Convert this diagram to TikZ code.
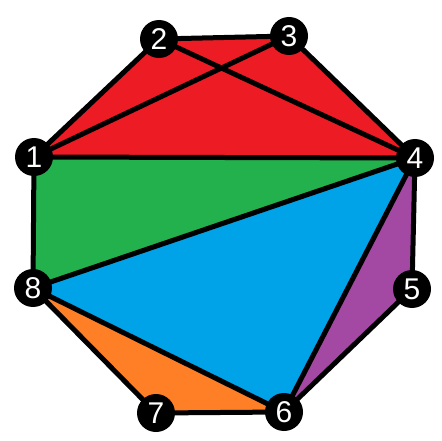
\documentclass[tikz,border=0pt]{standalone}
\usepackage{fontspec}
\setmainfont{Liberation Sans}
\definecolor{pred}{HTML}{ED1C24}
\definecolor{pgreen}{HTML}{22B14C}
\definecolor{pblue}{HTML}{00A2E8}
\definecolor{ppurple}{HTML}{A349A4}
\definecolor{porange}{HTML}{FF7F27}
\begin{document}
\begin{tikzpicture}[x=1pt,y=-1pt,
  vtx/.style={circle,fill=black,inner sep=0pt,minimum size=38pt,text=white,font=\fontsize{30}{30}\selectfont},
  edge/.style={line width=5pt,line join=round,line cap=round}]
\useasboundingbox (0,0) rectangle (442,441);
\coordinate (p1) at (34,157);
\coordinate (p2) at (159,39);
\coordinate (p3) at (289,36);
\coordinate (p4) at (415,158);
\coordinate (p5) at (412,289);
\coordinate (p6) at (284,412);
\coordinate (p7) at (156,413);
\coordinate (p8) at (33,288);
\fill[pred] (p1)--(p2)--(p3)--(p4)--cycle;
\fill[pgreen] (p1)--(p4)--(p8)--cycle;
\fill[pblue] (p8)--(p4)--(p6)--cycle;
\fill[ppurple] (p4)--(p5)--(p6)--cycle;
\fill[porange] (p8)--(p6)--(p7)--cycle;
\draw[edge] (p1)--(p2)--(p3)--(p4)--(p5)--(p6)--(p7)--(p8)--cycle;
\draw[edge] (p1)--(p3);
\draw[edge] (p2)--(p4);
\draw[edge] (p1)--(p4);
\draw[edge] (p4)--(p8);
\draw[edge] (p4)--(p6);
\draw[edge] (p8)--(p6);
\node[vtx] (n1) at (p1) {1};
\node[vtx] (n2) at (p2) {2};
\node[vtx] (n3) at (p3) {3};
\node[vtx] (n4) at (p4) {4};
\node[vtx] (n5) at (p5) {5};
\node[vtx] (n6) at (p6) {6};
\node[vtx] (n7) at (p7) {7};
\node[vtx] (n8) at (p8) {8};
\end{tikzpicture}
\end{document}
